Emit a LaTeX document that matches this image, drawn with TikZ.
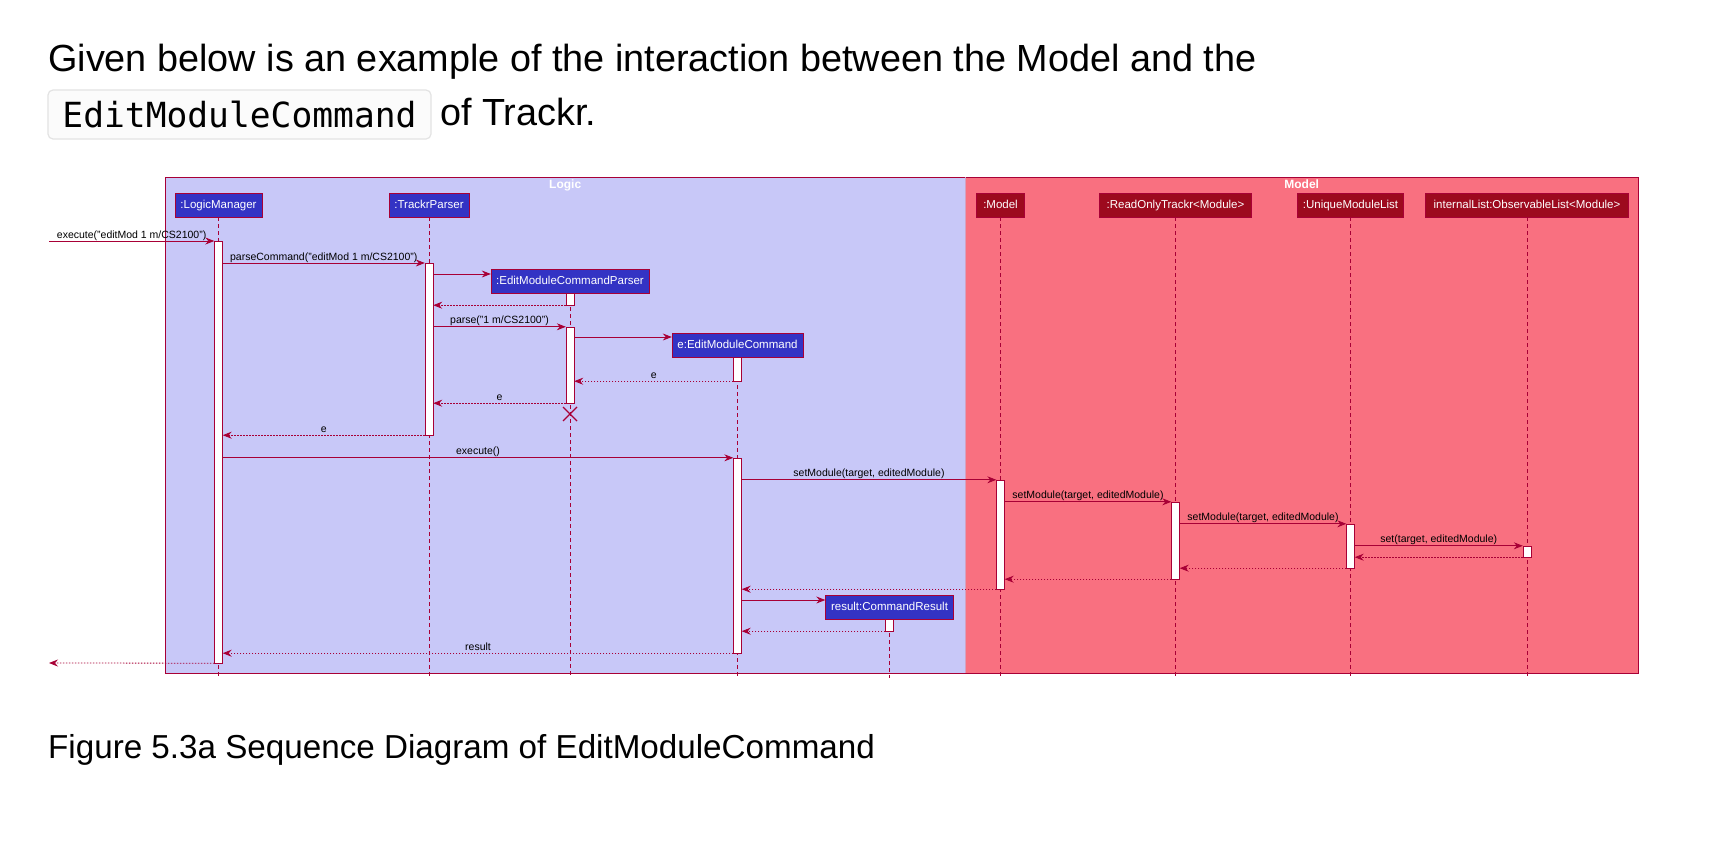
\documentclass[tikz,border=0pt]{standalone}
\usepackage{fontspec}
\setmainfont{Liberation Sans}
\newfontfamily\codefont{DejaVu Sans Mono}
\usetikzlibrary{arrows.meta}
\definecolor{umlline}{HTML}{A80036}
\definecolor{logicbg}{HTML}{C8C8F8}
\definecolor{modelbg}{HTML}{F97080}
\definecolor{logicbox}{HTML}{3333C4}
\definecolor{modelbox}{HTML}{9D0A1E}

\begin{document}
\begin{tikzpicture}[x=1bp,y=-1bp,
    part/.style={rectangle,draw=umlline,text=white,inner xsep=4bp,inner ysep=0pt,minimum height=24bp,
        text height=9.5bp,text depth=2bp,font=\fontsize{11.5bp}{13bp}\selectfont},
    lpart/.style={part,fill=logicbox},
    mpart/.style={part,fill=modelbox},
    act/.style={rectangle,draw=umlline,fill=white,minimum width=8bp,inner sep=0pt},
    life/.style={draw=umlline,line width=0.8bp,dash pattern=on 4bp off 3bp},
    msg/.style={draw=umlline,line width=0.8bp,-{Stealth[length=9bp,width=7bp,inset=3bp]}},
    ret/.style={msg,dash pattern=on 1.5bp off 1.5bp},
    lbl/.style={font=\fontsize{10.5bp}{12bp}\selectfont,anchor=base,inner sep=0pt,yshift=3bp},
    ttl/.style={text=white,anchor=north,inner sep=0pt,yshift=-3bp,font=\bfseries\fontsize{12bp}{13bp}\selectfont},
    frame/.style={draw=umlline,anchor=north west,inner sep=0pt,minimum height=496bp}]
\useasboundingbox[fill=white] (0,0) rectangle (1718,860);

\node[anchor=base west,inner sep=0pt,font=\fontsize{37.8bp}{45bp}\selectfont] (head) at (48,71)
    {Given below is an example of the interaction between the Model and the};
\node[draw=gray!22,fill=gray!3,rounded corners=5bp,line width=1.2bp,minimum width=383bp,minimum height=49bp,inner sep=0pt,
    font=\codefont\fontsize{34.6bp}{40bp}\selectfont] (code) at (239.5,114.5) {EditModuleCommand};
\node[anchor=base west,inner sep=0pt,font=\fontsize{37.8bp}{45bp}\selectfont] (trackr) at (440,125) {of Trackr.};

\node[frame,fill=logicbg,minimum width=800bp] (logicF) at (165,177) {};
\node[frame,fill=modelbg,minimum width=673bp] (modelF) at (965,177) {};
\draw[line width=1.5bp,color=logicbg!50!umlline!60!white] (logicF.north east) -- (logicF.south east);
\node[ttl] (logicT) at (logicF.north) {Logic};
\node[ttl] (modelT) at (modelF.north) {Model};

\node[lpart,minimum width=87bp] (lm) at (218.5,205) {:LogicManager};
\node[lpart,minimum width=80bp] (tp) at (429,205) {:TrackrParser};
\node[lpart,minimum width=158bp] (ep) at (570,281) {:EditModuleCommandParser};
\node[lpart,minimum width=131bp] (ec) at (737.5,345) {e:EditModuleCommand};
\node[lpart,minimum width=128bp] (cr) at (889.5,607) {result:CommandResult};
\node[mpart,minimum width=48bp] (md) at (1000.5,205) {:Model};
\node[mpart,minimum width=152bp] (ro) at (1175.5,205) {:ReadOnlyTrackr<Module>};
\node[mpart,minimum width=106bp] (ul) at (1350.5,205) {:UniqueModuleList};
\node[mpart,minimum width=203bp] (il) at (1527,205) {internalList:ObservableList<Module>};

\coordinate (bot) at (0,678);
\foreach \p in {lm,tp,ep,ec,cr,md,ro,ul,il}
    \draw[life] (\p.south) -- (\p.south |- bot);

\node[act,minimum height=422bp] (lmA) at (218.5,452) {};
\node[act,minimum height=172bp] (tpA) at (429,349) {};
\node[act,minimum height=12bp] (epA) at (570,299) {};
\node[act,minimum height=76bp] (epB) at (570,365) {};
\node[act,minimum height=24bp] (ecA) at (737.5,369) {};
\node[act,minimum height=195bp] (ecB) at (737.5,555.5) {};
\node[act,minimum height=12bp] (crA) at (889.5,625) {};
\node[act,minimum height=109bp] (mdA) at (1000.5,534.5) {};
\node[act,minimum height=77bp] (roA) at (1175.5,540.5) {};
\node[act,minimum height=44bp] (ulA) at (1350.5,546) {};
\node[act,minimum height=11bp] (ilA) at (1527,551.5) {};

\coordinate (src) at (49,241);
\coordinate (sink) at (49,663);
\coordinate (kill) at (570,414);

\draw[msg] (src) -- node[lbl] {execute("editMod 1 m/CS2100")} (lmA.west |- src);
\draw[msg] (lmA.east |- 0,263) -- node[lbl] {parseCommand("editMod 1 m/CS2100")} (tpA.west |- 0,263);
\draw[msg] (tpA.east |- 0,274) -- (ep.west |- 0,274);
\draw[ret] (epA.south west) -- (tpA.east |- epA.south);
\draw[msg] (tpA.east |- epB.north) -- node[lbl] {parse("1 m/CS2100")} (epB.north west);
\draw[msg] (epB.east |- 0,337) -- (ec.west |- 0,337);
\draw[ret] (ecA.south west) -- node[lbl] {e} (epB.east |- ecA.south);
\draw[ret] (epB.south west) -- node[lbl] {e} (tpA.east |- epB.south);
\draw[umlline,line width=1.2bp] (kill) +(-7,-7) -- +(7,7) (kill) +(-7,7) -- +(7,-7);
\draw[ret] (tpA.south west) -- node[lbl] {e} (lmA.east |- tpA.south);
\draw[msg] (lmA.east |- ecB.north) -- node[lbl] {execute()} (ecB.north west);
\draw[msg] (ecB.east |- mdA.north) -- node[lbl] {setModule(target, editedModule)} (mdA.north west);
\draw[msg] (mdA.east |- roA.north) -- node[lbl] {setModule(target, editedModule)} (roA.north west);
\draw[msg] (roA.east |- ulA.north) -- node[lbl] {setModule(target, editedModule)} (ulA.north west);
\draw[msg] (ulA.east |- ilA.north) -- node[lbl] {set(target, editedModule)} (ilA.north west);
\draw[ret] (ilA.south west) -- (ulA.east |- ilA.south);
\draw[ret] (ulA.south west) -- (roA.east |- ulA.south);
\draw[ret] (roA.south west) -- (mdA.east |- roA.south);
\draw[ret] (mdA.south west) -- (ecB.east |- mdA.south);
\draw[msg] (ecB.east |- 0,600) -- (cr.west |- 0,600);
\draw[ret] (crA.south west) -- (ecB.east |- crA.south);
\draw[ret] (ecB.south west) -- node[lbl] {result} (lmA.east |- ecB.south);
\draw[ret] (lmA.south west) -- (sink);

\node[anchor=base west,inner sep=0pt,font=\fontsize{33.2bp}{40bp}\selectfont] (caption) at (48,758)
    {Figure 5.3a Sequence Diagram of EditModuleCommand};
\end{tikzpicture}
\end{document}
